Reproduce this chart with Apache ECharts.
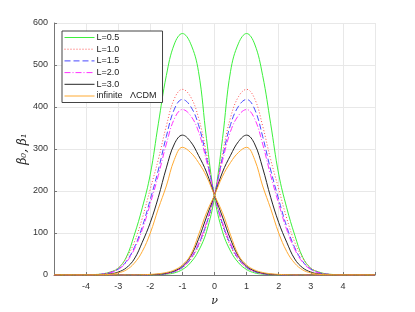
<!DOCTYPE html>
<html><head><meta charset="utf-8">
<script src="https://cdn.jsdelivr.net/npm/echarts@6/dist/echarts.min.js"></script>
<style>html,body{margin:0;padding:0;background:#fff}#c{width:415px;height:312px}</style>
</head><body><div id="c"></div>
<script>
const nu = [-5,-4.75,-4.5,-4.25,-4,-3.75,-3.5,-3.25,-3,-2.75,-2.5,-2.25,-2,-1.75,-1.5,-1.25,-1,-0.75,-0.5,-0.25,0,0.25,0.5,0.75,1,1.25,1.5,1.75,2,2.25,2.5,2.75,3,3.25,3.5,3.75,4,4.25,4.5,4.75,5];
const xTicks = [-4,-3,-2,-1,0,1,2,3,4];
const yTicks = [0,100,200,300,400,500,600];
const names = ['L=0.5','L=1.0','L=1.5','L=2.0','L=3.0','infinite   \u039BCDM'];

const b0_L05 = [0,0,0,0.1,0.3,1,2.5,7,16,42,95,160,240,360,475,550,575,552,485,325,185,103,57,29,13,5,2,0.7,0.2,0.1,0,0,0,0,0,0,0,0,0,0,0];
const b1_L05 = [0,0,0,0,0,0,0,0,0,0,0,0.1,0.2,0.7,2,5,13,29,57,103,185,325,485,552,575,550,475,360,240,160,95,42,16,7,2.5,1,0.3,0.1,0,0,0];
const b0_L10 = [0,0,0,0.1,0.3,1,2.5,7,17,40,78,135,205,275,355,420,442,425,375,290,190,118,68,36,17,7.5,3,1.2,0.4,0.1,0,0,0,0,0,0,0,0,0,0,0];
const b1_L10 = [0,0,0,0,0,0,0,0,0,0,0,0.1,0.4,1.2,3,7.5,17,36,68,118,190,290,375,425,442,420,355,275,205,135,78,40,17,7,2.5,1,0.3,0.1,0,0,0];
const b0_L15 = [0,0,0,0.1,0.2,0.7,2,5.5,14,32,65,115,180,250,330,395,418,402,358,280,190,122,72,38,18,8,3.3,1.3,0.5,0.1,0,0,0,0,0,0,0,0,0,0,0];
const b1_L15 = [0,0,0,0,0,0,0,0,0,0,0,0.1,0.5,1.3,3.3,8,18,38,72,122,190,280,358,402,418,395,330,250,180,115,65,32,14,5.5,2,0.7,0.2,0.1,0,0,0];
const b0_L20 = [0,0,0,0.1,0.2,0.6,1.8,5,13,30,61,108,170,237,312,372,394,380,342,272,190,125,75,40,19,8.5,3.5,1.4,0.5,0.1,0,0,0,0,0,0,0,0,0,0,0];
const b1_L20 = [0,0,0,0,0,0,0,0,0,0,0,0.1,0.5,1.4,3.5,8.5,19,40,75,125,190,272,342,380,394,372,312,237,170,108,61,30,13,5,1.8,0.6,0.2,0.1,0,0,0];
const b0_L30 = [0,0,0,0,0.1,0.3,1,2.5,7,17,38,78,125,185,255,312,333,318,285,245,190,138,85,44,21,10,4.5,2,0.8,0.3,0.1,0,0,0,0,0,0,0,0,0,0];
const b1_L30 = [0,0,0,0,0,0,0,0,0,0,0.1,0.3,0.8,2,4.5,10,21,44,85,138,190,245,285,318,333,312,255,185,125,78,38,17,7,2.5,1,0.3,0.1,0,0,0,0];
const b0_LCDM = [0,0,0,0,0,0.1,0.5,1.5,5,12,28,56,100,158,212,275,304,292,268,235,190,148,95,47,24,12,6,3,1.5,0.6,0.2,0.1,0,0,0,0,0,0,0,0,0];
const b1_LCDM = [0,0,0,0,0,0,0,0,0,0.1,0.2,0.6,1.5,3,6,12,24,47,95,148,190,235,268,292,304,275,212,158,100,56,28,12,5,1.5,0.5,0.1,0,0,0,0,0];

const styles = [
  {color:'#3cf03c', type:'solid'},
  {color:'#ff5050', type:[1,2]},
  {color:'#4848ff', type:[6,3]},
  {color:'#ff30ff', type:[6,2,1,2]},
  {color:'#262626', type:'solid'},
  {color:'#ffaa33', type:'solid'}
];
const pairs = [[b0_L05,b1_L05],[b0_L10,b1_L10],[b0_L15,b1_L15],[b0_L20,b1_L20],[b0_L30,b1_L30],[b0_LCDM,b1_LCDM]];
const series = [];
pairs.forEach((p,i)=>{
  p.forEach(arr=>{
    series.push({
      type:'line', name:names[i], symbol:'none', smooth:0.4, animation:false,
      data: nu.map((x,j)=>[x,arr[j]]),
      lineStyle:{color:styles[i].color, type:styles[i].type, width:1},
      itemStyle:{color:styles[i].color}
    });
  });
});
const chart = echarts.init(document.getElementById('c'), null, {renderer:'canvas'});
chart.setOption({
  backgroundColor:'#fff',
  animation:false,
  grid:{left:54, right:40, top:23, bottom:35, containLabel:false},
  legend:{
    data:names.map((n,i)=>({name:n, itemStyle:{opacity:0},
      lineStyle:{color:styles[i].color, type:styles[i].type, width:1, opacity:1}})),
    orient:'vertical', left:62, top:31, width:100,
    padding:[2,6,2,2], itemGap:2.7, itemWidth:30, itemHeight:9,
    backgroundColor:'#fff', borderColor:'#444', borderWidth:1,
    textStyle:{fontFamily:'Liberation Sans', fontSize:9, color:'#222', padding:[0,0,0,-3]}
  },
  xAxis:{
    type:'value', min:-5, max:5, interval:1,
    name:'\u03BD', nameLocation:'middle', nameGap:21,
    nameTextStyle:{fontFamily:'DejaVu Serif', fontStyle:'italic', fontSize:11, color:'#222'},
    axisLine:{show:true, onZero:false, lineStyle:{color:'#777', width:1}},
    axisTick:{show:true, inside:true, length:3, lineStyle:{color:'#777'}},
    axisLabel:{fontFamily:'Liberation Sans', fontSize:9, color:'#333', margin:7,
      formatter:v=> xTicks.includes(v) ? String(v) : ''},
    splitLine:{show:true, lineStyle:{color:'#e8e8e8', width:1}}
  },
  yAxis:{
    type:'value', min:0, max:600, interval:100,
    name:'\u03B2\u2080, \u03B2\u2081', nameLocation:'middle', nameGap:25, nameRotate:90,
    nameMoveOverlap:false,
    nameTextStyle:{fontFamily:'DejaVu Serif', fontStyle:'italic', fontSize:12, color:'#222'},
    axisLine:{show:true, onZero:false, lineStyle:{color:'#777', width:1}},
    axisTick:{show:true, inside:true, length:3, lineStyle:{color:'#777'}},
    axisLabel:{fontFamily:'Liberation Sans', fontSize:9, color:'#333', margin:6,
      formatter:v=> yTicks.includes(v) ? String(v) : ''},
    splitLine:{show:true, lineStyle:{color:'#e8e8e8', width:1}}
  },
  series: series
});
</script></body></html>
